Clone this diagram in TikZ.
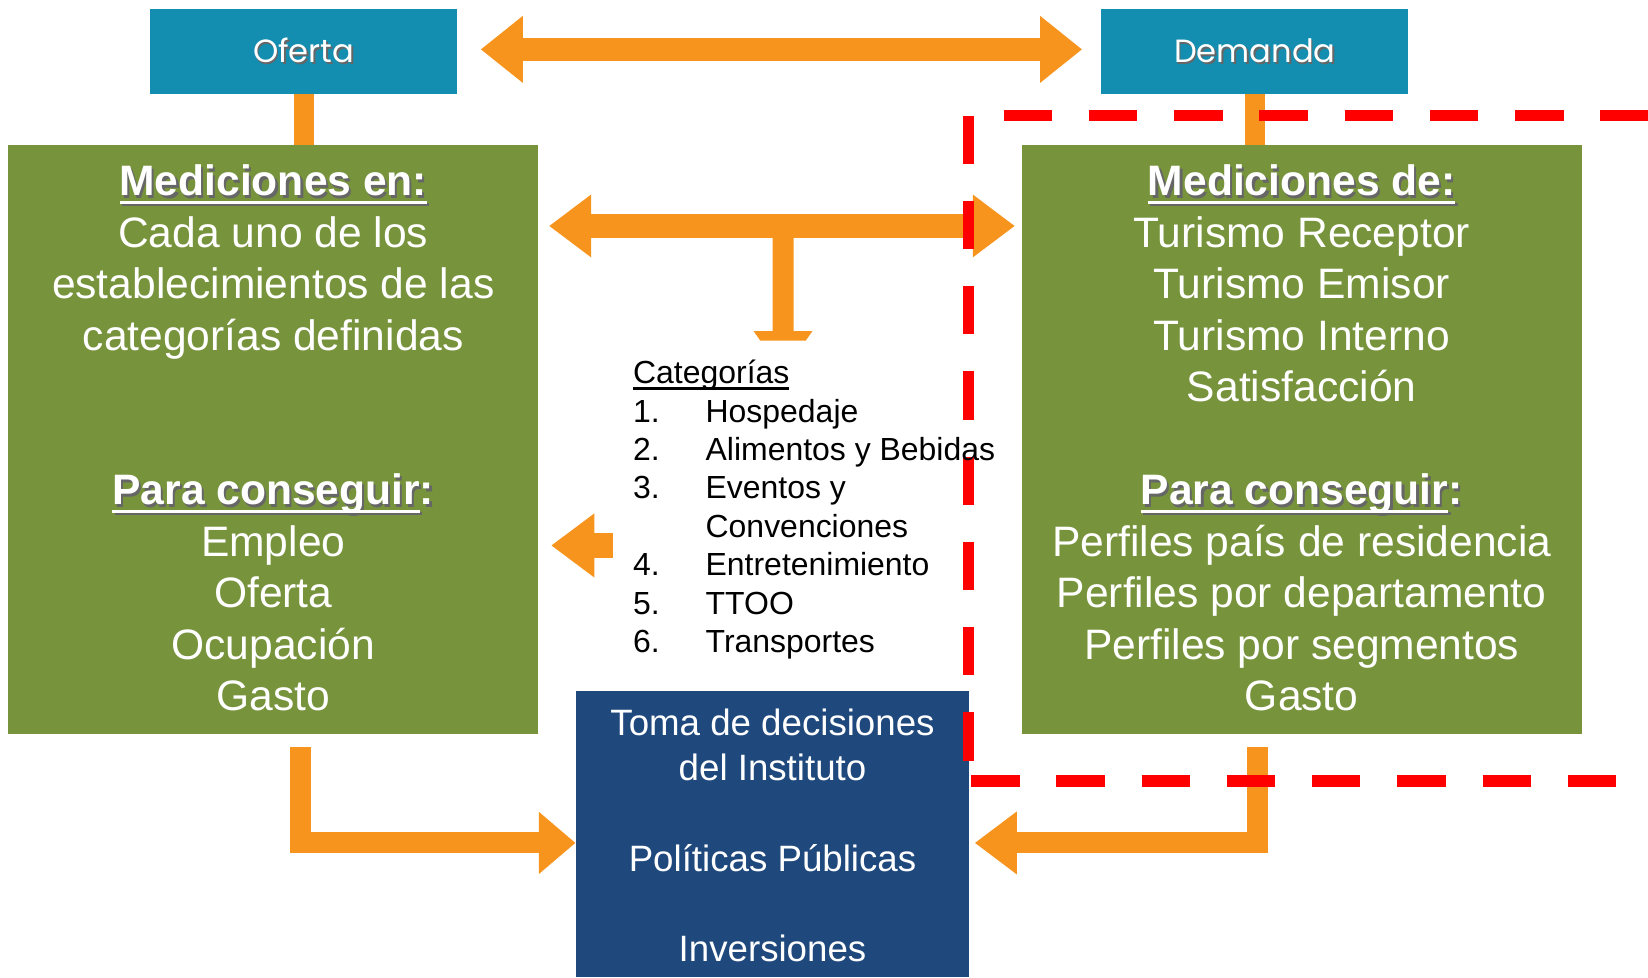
\documentclass[tikz,border=0pt]{standalone}
\usepackage{fontspec}
\setmainfont{Liberation Sans}
\newfontfamily\popfont{Poppins}
\usetikzlibrary{arrows.meta,calc}
\definecolor{ofblue}{RGB}{19,141,176}
\definecolor{mgreen}{RGB}{119,147,60}
\definecolor{tblue}{RGB}{31,73,125}
\definecolor{orng}{RGB}{247,148,29}
\definecolor{dred}{RGB}{255,0,0}
\newcommand\myul[1]{\setbox0=\hbox{#1}\rlap{\rule[-0.19em]{\wd0}{0.07em}}\box0}
\newcommand\shd[1]{\rlap{\kern0.05em\raisebox{-0.05em}{\color{black!60}#1}}#1}
\begin{document}
\begin{tikzpicture}[x=0.5pt,y=-0.5pt,
  topbox/.style={fill=ofblue, minimum width=146pt, minimum height=40pt, inner sep=0pt, text=white, font=\popfont\fontsize{15.3}{18}\selectfont},
  greenbox/.style={fill=mgreen, minimum height=280pt, inner sep=0pt},
  gtext/.style={text=white, align=center, inner sep=0pt, font=\fontsize{20.25}{24.5}\selectfont},
  cattext/.style={text=black, align=left, inner sep=0pt, font=\fontsize{15.2}{18.3}\selectfont},
  btext/.style={text=white, align=center, inner sep=0pt, font=\fontsize{17.45}{21.5}\selectfont},
  oarrow/.style={draw=orng, line width=11pt},
  obar/.style={draw=orng, line width=9.5pt},
  reddash/.style={draw=dred, line width=5.5pt, dash pattern=on 23pt off 17.55pt}
]
\useasboundingbox (0,0) rectangle (1568,929.6);
% boxes
\node[topbox] (oferta) at (289,49) {\shd{Oferta}};
\node[topbox] (demanda) at (1194,49) {\shd{Demanda}};
\node[greenbox, minimum width=252pt] (medL) at (260,418) {};
\node[greenbox, minimum width=266.5pt] (medR) at (1238.5,418) {};
\node[fill=tblue, minimum width=187pt, minimum height=136.3pt, inner sep=0pt] (toma) at (735,793.3) {};
% vertical connectors
\draw[obar] (oferta.south) -- (medL.north -| oferta.south);
\draw[obar] (demanda.south) -- (medR.north -| demanda.south);
% top double arrow
\draw[oarrow, {Triangle[width=30.5pt,length=20pt]}-{Triangle[width=30.5pt,length=20pt]}]
  ($(oferta.east |- 0,47)+(22,0)$) -- ($(demanda.west |- 0,47)+(-18,0)$);
% middle double arrow
\draw[oarrow, {Triangle[width=28.5pt,length=20pt]}-{Triangle[width=28.5pt,length=20pt]}]
  ($(medL.east |- 0,215)+(10,0)$) -- ($(medR.west |- 0,215)+(-6,0)$);
% stem with clipped head
\fill[orng] (735,215) -- (755,215) -- (755,315) -- (773,315) -- (766.7,324) -- (723.3,324) -- (717,315) -- (735,315) -- cycle;
% small left arrow
\coordinate (sa) at (583,519);
\draw[oarrow, line width=11.5pt, -{Triangle[width=29pt,length=20.5pt]}]
  (sa) -- ($(medL.east |- sa)+(12,0)$);
% bottom L arrows
\coordinate (ls) at (286,711);
\coordinate (rs) at (1196.5,711);
\draw[draw=orng, line width=10pt, line join=miter, -{Triangle[width=28.5pt,length=17.5pt]}]
  (ls) |- (toma.west |- 0,802);
\draw[draw=orng, line width=10pt, line join=miter, -{Triangle[width=28.5pt,length=20pt]}]
  (rs) |- ($(toma.east |- 0,802)+(5,0)$);
% red dashed frame
\draw[reddash] (955,110) -- (1568,110);
\draw[reddash] (921.5,110) -- (921.5,743);
\draw[reddash] (924,743) -- (1540,743);
% texts
\node[gtext] (medLtxt) at (260,417) {\shd{\textbf{\myul{Mediciones en:}}}\\ Cada uno de los\\ establecimientos de las\\ categorías definidas\\ ~\\ ~\\ \shd{\textbf{\myul{Para conseguir}:}}\\ Empleo\\ Oferta\\ Ocupación\\ Gasto};
\node[gtext] (medRtxt) at (1238.5,417) {\shd{\textbf{\myul{Mediciones de:}}}\\ Turismo Receptor\\ Turismo Emisor\\ Turismo Interno\\ Satisfacción\\ ~\\ \shd{\textbf{\myul{Para conseguir}:}}\\ Perfiles país de residencia\\ Perfiles por departamento\\ Perfiles por segmentos\\ Gasto};
\node[cattext, anchor=west] (cat) at (602,485) {\myul{Categorías}\\
\makebox[34.5pt][l]{1.}Hospedaje\\
\makebox[34.5pt][l]{2.}Alimentos y Bebidas\\
\makebox[34.5pt][l]{3.}Eventos y\\
\makebox[34.5pt][l]{}Convenciones\\
\makebox[34.5pt][l]{4.}Entretenimiento\\
\makebox[34.5pt][l]{5.}TTOO\\
\makebox[34.5pt][l]{6.}Transportes};
\node[btext] (tomatxt) at (735,795) {Toma de decisiones\\ del Instituto\\ ~\\ Políticas Públicas\\ ~\\ Inversiones};
\end{tikzpicture}
\end{document}
